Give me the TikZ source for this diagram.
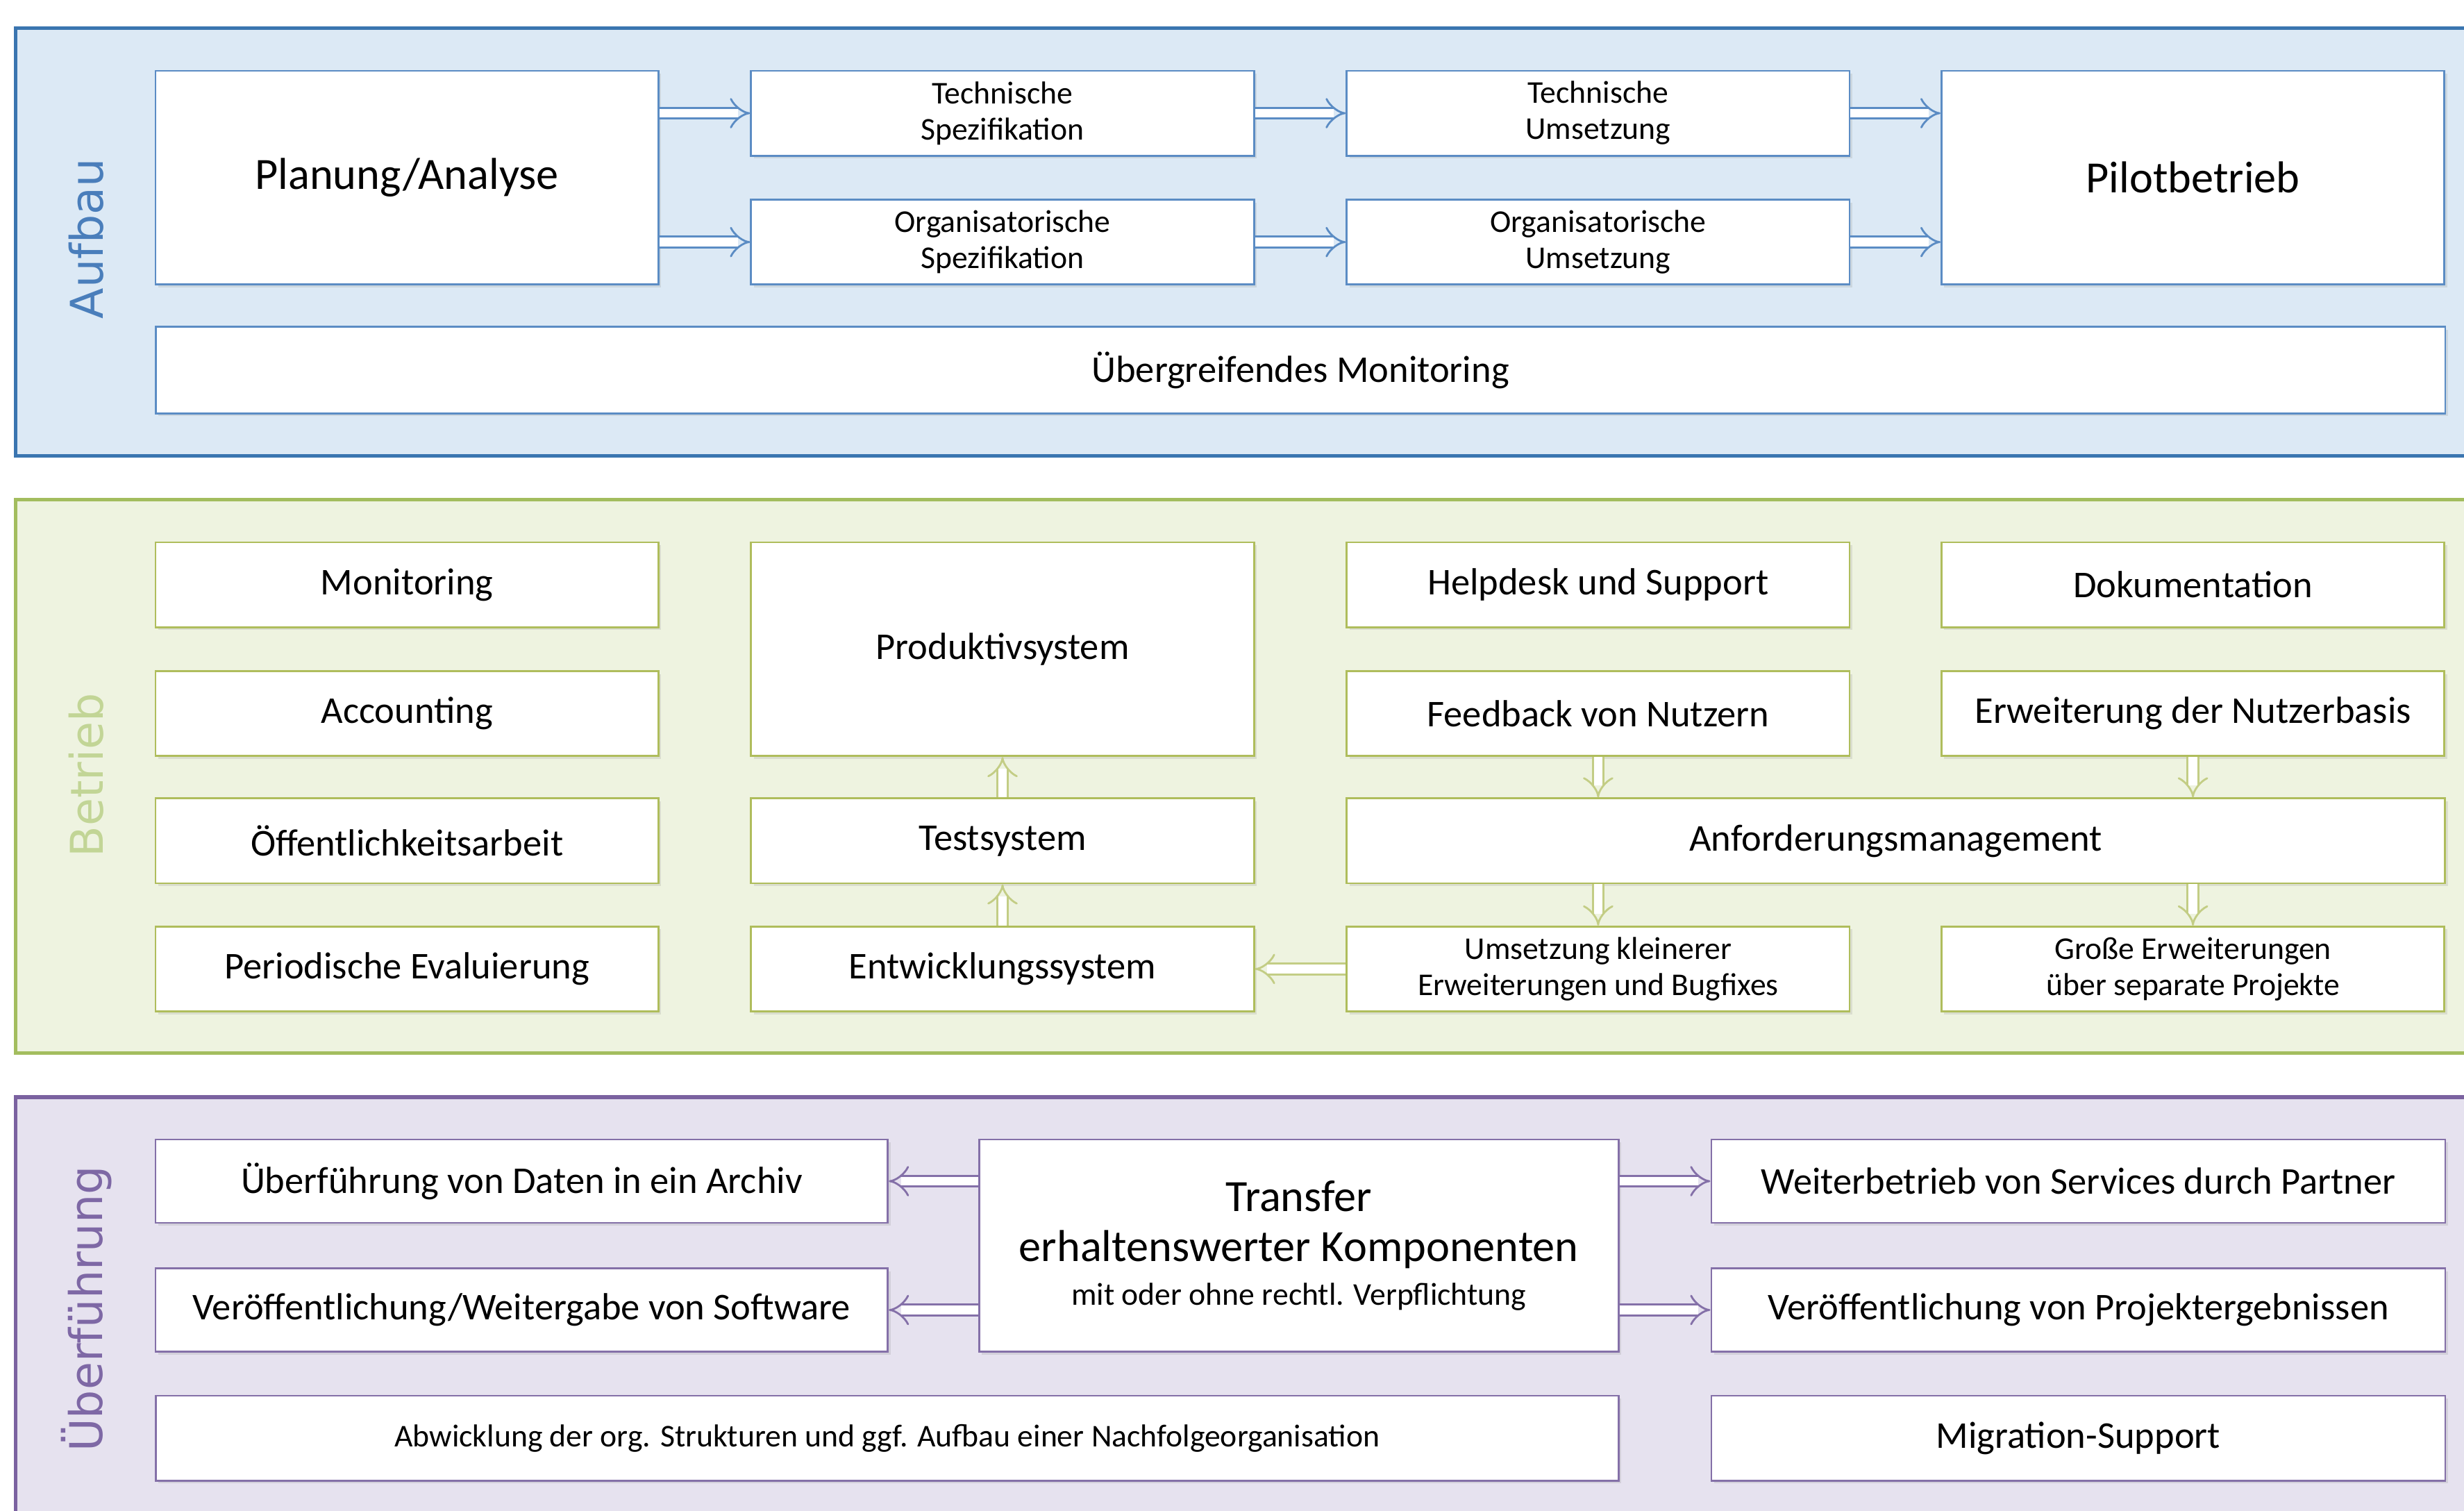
\documentclass[tikz,border=0pt]{standalone}
\usepackage{fontspec}
\setmainfont{Carlito}
\newfontfamily\panelFont{DejaVu Sans}
\usetikzlibrary{arrows.meta,positioning,shadows}

\definecolor{aufDark}{HTML}{3A75B0}
\definecolor{aufLine}{HTML}{5B8CC4}
\definecolor{aufFill}{HTML}{DCE9F5}
\definecolor{aufText}{HTML}{4A7EBB}
\definecolor{betDark}{HTML}{A3BD5E}
\definecolor{betLine}{HTML}{AFBD5C}
\definecolor{betFill}{HTML}{EEF3E0}
\definecolor{betText}{HTML}{C2D596}
\definecolor{uebDark}{HTML}{7B62A0}
\definecolor{uebLine}{HTML}{8470A8}
\definecolor{uebFill}{HTML}{E6E2EF}
\definecolor{uebText}{HTML}{7E68A5}

\newcommand{\fontBig}{\fontsize{18.3}{20.5}\selectfont}
\newcommand{\fontMid}{\fontsize{15.5}{18}\selectfont}
\newcommand{\fontSmall}{\fontsize{13}{14.8}\selectfont}

\tikzset{
	panelBox/.style 2 args={
		draw=#1,
		fill=#2,
		line width=1.5pt
	},
	panelLabel/.style={
		rotate=90,
		text=#1,
		font=\panelFont\fontsize{18.5}{22}\selectfont
	},
	boxBase/.style={
		fill=white,
		line width=0.8pt,
		align=center,
		inner sep=2pt,
		minimum height=1.222cm,
		drop shadow={opacity=0.18, shadow xshift=0.04cm, shadow yshift=-0.04cm},
		font=\fontMid
	},
	aufNode/.style={boxBase, draw=aufLine},
	betNode/.style={boxBase, draw=betLine},
	uebNode/.style={boxBase, draw=uebLine},
	dblArrow/.style={
		draw=#1,
		double=white,
		double distance=3.6pt,
		line width=0.8pt,
		-{Implies}
	},
}

\begin{document}
\begin{tikzpicture}[
		colW/.style={minimum width=7.243cm}
	,	tallBox/.style={minimum height=3.078cm}]
\clip (0,0) rectangle (35.49,-21.75);

% Aufbau
\begin{scope}
    \draw[panelBox={aufDark}{aufFill}] (0.226,-0.407) rectangle (36,-6.564);
    \node[panelLabel=aufText] (AufLbl) at (1.245,-3.44){Aufbau};

    \node[aufNode, colW, tallBox, font=\fontBig] (Plan) at (5.862,-2.558){Planung/Analyse};
    \node[aufNode, colW, font=\fontSmall] (TSpez) at (14.440,-1.630){Technische\\Spezifikation};
    \node[aufNode, colW, font=\fontSmall] (OSpez) at (14.440,-3.486){Organisatorische\\Spezifikation};
    \node[aufNode, colW, font=\fontSmall] (TUms) at (23.019,-1.630){Technische\\Umsetzung};
    \node[aufNode, colW, font=\fontSmall] (OUms) at (23.019,-3.486){Organisatorische\\Umsetzung};
    \node[aufNode, colW, tallBox, font=\fontBig] (Pilot) at (31.586,-2.558){Pilotbetrieb};
    \node[aufNode, minimum width=32.978cm, minimum height=1.245cm] (AllMon) at (18.730,-5.330){Übergreifendes Monitoring};

    \path (Plan.east |- TSpez) edge[dblArrow=aufLine] (TSpez);
    \path (Plan.east |- OSpez) edge[dblArrow=aufLine] (OSpez);
    \path (TSpez) edge[dblArrow=aufLine] (TUms);
    \path (OSpez) edge[dblArrow=aufLine] (OUms);
    \path (TUms) edge[dblArrow=aufLine] (TUms -| Pilot.west);
    \path (OUms) edge[dblArrow=aufLine] (OUms -| Pilot.west);
\end{scope}

% Betrieb
\begin{scope}
    \draw[panelBox={betDark}{betFill}] (0.226,-7.198) rectangle (36,-15.165);
    \node[panelLabel=betText] (BetLbl) at (1.245,-11.16){Betrieb};

    \node[betNode, colW] (Mon) at (5.862,-8.420){Monitoring};
    \node[betNode, colW] (Acc) at (5.862,-10.276){Accounting};
    \node[betNode, colW] (Oeff) at (5.862,-12.109){Öffentlichkeitsarbeit};
    \node[betNode, colW] (Eval) at (5.862,-13.954){Periodische Evaluierung};

    \node[betNode, colW, tallBox] (Prod) at (14.440,-9.348){Produktivsystem};
    \node[betNode, colW] (Test) at (14.440,-12.109){Testsystem};
    \node[betNode, colW] (Entw) at (14.440,-13.954){Entwicklungssystem};

    \node[betNode, colW] (Help) at (23.019,-8.420){Helpdesk und Support};
    \node[betNode, colW] (Feed) at (23.019,-10.276){Feedback von Nutzern};
    \node[betNode, colW] (Doku) at (31.586,-8.420){Dokumentation};
    \node[betNode, colW] (Erw) at (31.586,-10.276){Erweiterung der Nutzerbasis};
    \node[betNode, minimum width=15.821cm] (Anf) at (27.308,-12.109){Anforderungsmanagement};
    \node[betNode, colW, font=\fontSmall] (Klein) at (23.019,-13.954){Umsetzung kleinerer\\Erweiterungen und Bugfixes};
    \node[betNode, colW, font=\fontSmall] (Gross) at (31.586,-13.954){Große Erweiterungen\\über separate Projekte};

    \path (Test) edge[dblArrow=betLine!75] (Prod);
    \path (Entw) edge[dblArrow=betLine!75] (Test);
    \path (Feed) edge[dblArrow=betLine!75] (Feed |- Anf.north);
    \path (Erw) edge[dblArrow=betLine!75] (Erw |- Anf.north);
    \path (Anf.south -| Klein) edge[dblArrow=betLine!75] (Klein);
    \path (Anf.south -| Gross) edge[dblArrow=betLine!75] (Gross);
    \path (Klein) edge[dblArrow=betLine!75] (Entw);
\end{scope}

% Ueberfuehrung
\begin{scope}
    \draw[panelBox={uebDark}{uebFill}] (0.226,-15.799) rectangle (36,-22.5);
    \node[panelLabel=uebText] (UebLbl) at (1.245,-18.85){Überführung};

    \node[uebNode, minimum width=10.547cm, minimum height=1.2cm] (Arch) at (7.514,-17.010){Überführung von Daten in ein Archiv};
    \node[uebNode, minimum width=10.547cm, minimum height=1.2cm] (Soft) at (7.514,-18.865){Veröffentlichung/Weitergabe von Software};
    \node[uebNode, minimum width=9.212cm, minimum height=3.056cm, font=\fontBig] (Trans) at (18.707,-17.937){Transfer\\erhaltenswerter Komponenten\\[-2.6pt]{\fontSmall mit oder ohne rechtl. Verpflichtung}};
    \node[uebNode, minimum width=10.570cm, minimum height=1.2cm] (Weit) at (29.934,-17.010){Weiterbetrieb von Services durch Partner};
    \node[uebNode, minimum width=10.570cm, minimum height=1.2cm] (Proj) at (29.934,-18.865){Veröffentlichung von Projektergebnissen};
    \node[uebNode, minimum width=21.072cm, font=\fontSmall] (Abw) at (12.777,-20.710){Abwicklung der org. Strukturen und ggf. Aufbau einer Nachfolgeorganisation};
    \node[uebNode, minimum width=10.570cm] (Migr) at (29.934,-20.710){Migration-Support};

    \path (Trans.west |- Arch) edge[dblArrow=uebLine] (Arch);
    \path (Trans.west |- Soft) edge[dblArrow=uebLine] (Soft);
    \path (Trans.east |- Weit) edge[dblArrow=uebLine] (Weit);
    \path (Trans.east |- Proj) edge[dblArrow=uebLine] (Proj);
\end{scope}

\end{tikzpicture}
\end{document}
